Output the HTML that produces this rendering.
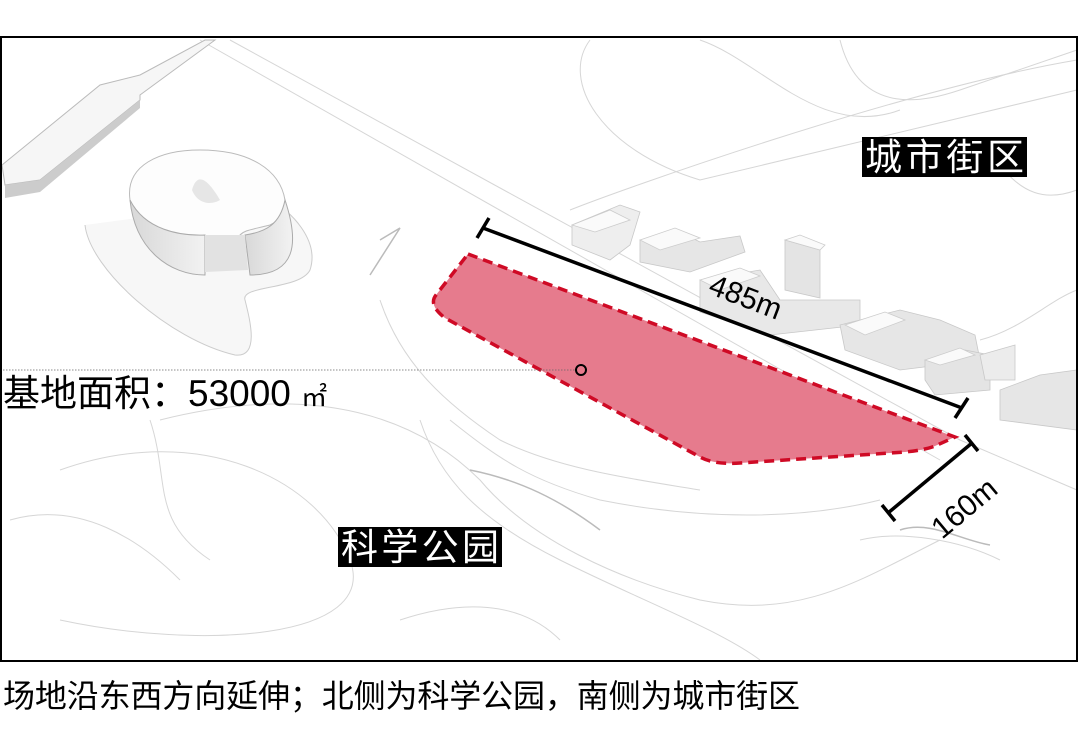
<!DOCTYPE html>
<html><head><meta charset="utf-8"><style>
body{margin:0;background:#fff;width:1080px;height:754px;overflow:hidden;font-family:"Liberation Sans","Noto Sans CJK SC",sans-serif}
</style></head><body>
<svg width="1080" height="754" viewBox="0 0 1080 754" xmlns="http://www.w3.org/2000/svg" style="position:absolute;left:0;top:0">
<defs><linearGradient id="g" x1="0" y1="0" x2="1" y2="0"><stop offset="0" stop-color="#d8d8d8"/><stop offset="1" stop-color="#f2f2f2"/></linearGradient></defs>
<g fill="none" stroke="#d6d6d6" stroke-width="1">
<path d="M230 40 L960 440 L1077 490"/>
<path d="M200 40 L940 460"/>
<path d="M590 40 C560 80 600 150 700 180 L1077 90"/>
<path d="M700 40 C760 60 820 140 900 110"/>
<path d="M840 40 C860 120 930 100 960 90 L1077 50"/>
<path d="M570 210 C620 190 900 90 1077 60"/>
<path d="M990 150 C1020 200 1050 200 1077 190"/>
<path d="M980 340 C1020 330 1050 300 1077 290"/>
<path d="M60 470 C200 420 320 480 350 560 C380 640 200 650 60 620"/>
<path d="M150 420 C170 480 150 520 210 560"/>
<path d="M160 420 C320 380 420 420 480 480 C530 540 620 580 700 600 C800 620 860 580 940 540"/>
<path d="M420 420 C440 480 480 520 560 560 C640 600 720 630 760 660"/>
<path d="M450 420 C500 460 530 480 600 500 C700 520 800 520 880 500"/>
<path d="M380 300 C400 360 440 400 500 440 C560 470 640 480 700 490"/>
<path d="M10 520 C80 500 140 540 180 580"/>
<path d="M400 620 C460 600 520 600 560 640"/>
<path d="M860 540 C900 530 960 540 1000 560"/>
</g>
<g stroke="#bbb" stroke-width="1.5" fill="none">
<path d="M380 240 L400 228 L370 275"/>
<path d="M470 470 C520 480 560 500 600 530"/>
<path d="M900 530 C930 520 960 540 990 545"/>
</g>
<!-- top-left platform -->
<polygon points="2,165 100,85 140,75 205,40 215,40 140,95 140,100 40,180 5,185" fill="#f6f6f6" stroke="#bbb"/>
<polygon points="5,185 40,180 140,100 140,108 40,192 5,198" fill="#ccc"/>
<!-- organic building -->
<path d="M85 225 C90 270 170 340 235 355 C260 358 250 320 245 300 C240 285 300 290 310 270 C320 240 290 210 270 200" fill="#f7f7f7" stroke="#ccc"/>
<path d="M130 200 C125 165 160 150 200 150 C250 150 280 170 285 200 C290 215 280 220 270 225 C250 230 245 230 240 235 L240 262 L205 265 C200 245 195 240 180 235 C150 235 135 225 130 200 Z" fill="#fdfdfd" stroke="#bbb"/>
<path d="M130 200 C135 250 170 275 205 275 L205 235 C180 236 145 230 130 200Z" fill="url(#g)" stroke="#aaa"/>
<path d="M245 235 C265 232 280 225 285 200 C300 245 295 275 250 275Z" fill="url(#g)" stroke="#aaa"/>
<path d="M205 235 L245 235 L248 270 L205 272Z" fill="#e2e2e2"/>
<path d="M192 190 C197 172 207 178 220 200 C212 205 198 205 192 190Z" fill="#e6e6e6"/>
<!-- city buildings -->
<g stroke="#c8c8c8" stroke-width="0.8">
<polygon points="572,225 620,205 640,212 630,245 610,260 572,245" fill="#eee"/>
<polygon points="640,240 680,232 700,242 740,236 745,252 690,272 640,262" fill="#e6e6e6"/>
<polygon points="785,240 820,250 820,298 785,290" fill="#e4e4e4"/>
<polygon points="700,280 760,270 780,300 860,300 860,325 770,335 700,312" fill="#e8e8e8"/>
<polygon points="840,325 900,310 940,320 975,335 980,360 900,370 845,350" fill="#e6e6e6"/>
<polygon points="925,360 965,350 990,355 990,390 935,395 925,380" fill="#e4e4e4"/>
<polygon points="980,355 1015,345 1015,380 985,380" fill="#ececec"/>
<polygon points="1000,390 1040,375 1077,370 1077,430 1000,420" fill="#e6e6e6"/>
</g>
<g fill="#fafafa" stroke="#ccc" stroke-width="0.8">
<polygon points="572,225 610,210 630,220 595,232"/>
<polygon points="640,240 675,228 700,238 660,250"/>
<polygon points="785,240 800,235 825,245 820,250"/>
<polygon points="700,280 740,268 760,276 720,290"/>
<polygon points="845,325 885,312 905,320 865,335"/>
<polygon points="925,360 960,348 975,355 940,365"/>
</g>
<!-- site -->
<path d="M468 254 L955 437 L935 446 Q925 450 905 452 L740 463 Q715 465 700 457 L445 318 Q428 305 436 295 Z" fill="#e67b8d" stroke="#cf0a25" stroke-width="3.5" stroke-dasharray="10,6"/>
<line x1="3" y1="370" x2="576" y2="370" stroke="#666" stroke-width="0.8" stroke-dasharray="1.5,1.5"/>
<circle cx="581" cy="370" r="5" fill="none" stroke="#000" stroke-width="2"/>
<g stroke="#000" stroke-width="3.5">
<line x1="483" y1="228" x2="962" y2="408"/>
<line x1="477" y1="238" x2="489" y2="218"/>
<line x1="955" y1="418" x2="968" y2="398"/>
<line x1="972" y1="443" x2="888" y2="513"/>
<line x1="965" y1="435" x2="978" y2="451"/>
<line x1="882" y1="505" x2="895" y2="521"/>
</g>
<text font-size="30" transform="translate(707 293) rotate(21)" fill="#000">485m</text>
<text font-size="30" transform="translate(942 540) rotate(-40)" fill="#000">160m</text>
<rect x="1" y="37" width="1076" height="624" fill="none" stroke="#000" stroke-width="2"/>
<rect x="862" y="137" width="165" height="40" fill="#000"/>
<text x="865" y="170" font-size="37" fill="#fff" font-family="Liberation Sans, Noto Sans CJK SC, sans-serif" textLength="159">城市街区</text>
<rect x="338" y="527" width="164" height="40" fill="#000"/>
<text x="341" y="560" font-size="37" fill="#fff" font-family="Liberation Sans, Noto Sans CJK SC, sans-serif" textLength="158">科学公园</text>
<text x="3" y="406" font-size="37" fill="#000" font-family="Liberation Sans, Noto Sans CJK SC, sans-serif">基地面积：53000 <tspan font-size="26">㎡</tspan></text>
<text x="3" y="707" font-size="32" fill="#000" font-family="Liberation Sans, Noto Sans CJK SC, sans-serif" textLength="797">场地沿东西方向延伸；北侧为科学公园，南侧为城市街区</text>
</svg>
</body></html>
